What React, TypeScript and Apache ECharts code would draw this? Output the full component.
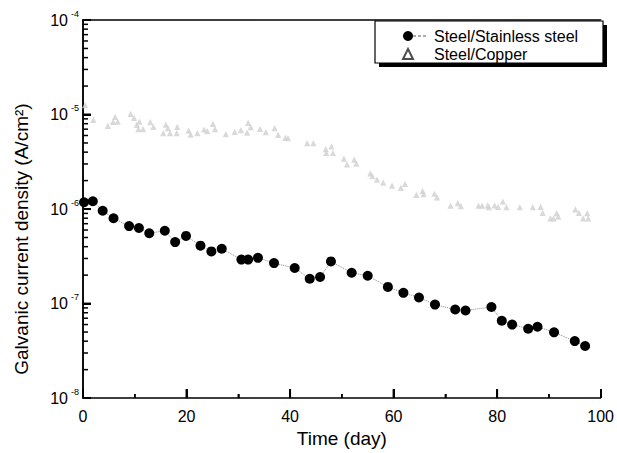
import React, { useEffect, useRef } from "react";
import * as echarts from "echarts";

// Steel/Stainless steel couple (filled circles, dotted line)
const stainlessDays = [0.2, 1.9, 3.8, 5.9, 8.9, 10.8, 12.8, 15.8, 17.8, 19.9, 22.7, 24.8, 26.8, 30.6, 31.9, 33.8, 36.9, 40.9, 43.8, 45.8, 47.9, 51.9, 55.0, 58.9, 61.9, 64.9, 68.0, 71.9, 73.9, 78.9, 80.9, 82.9, 86.0, 87.8, 91.0, 95.0, 97.0];
const stainlessValues = [1.18e-6, 1.21e-6, 9.6e-7, 8.0e-7, 6.6e-7, 6.3e-7, 5.55e-7, 5.9e-7, 4.47e-7, 5.2e-7, 4.1e-7, 3.56e-7, 3.8e-7, 2.92e-7, 2.92e-7, 3.05e-7, 2.68e-7, 2.38e-7, 1.83e-7, 1.91e-7, 2.79e-7, 2.12e-7, 1.97e-7, 1.5e-7, 1.3e-7, 1.16e-7, 9.75e-8, 8.65e-8, 8.44e-8, 9.2e-8, 6.58e-8, 6.0e-8, 5.42e-8, 5.69e-8, 4.96e-8, 4.01e-8, 3.56e-8];

// Steel/Copper couple (faint open triangles)
const copperDays = [0.4, 2.0, 4.8, 5.8, 6.2, 6.7, 9.2, 9.85, 10.4, 10.7, 10.9, 11.6, 13.0, 13.6, 15.5, 16.0, 16.4, 16.8, 18.1, 18.2, 20.4, 20.8, 22.1, 23.4, 24.0, 25.1, 25.5, 27.6, 29.3, 30.5, 31.7, 31.9, 32.4, 34.2, 35.3, 37.0, 37.7, 39.1, 39.6, 43.3, 44.5, 46.9, 47.0, 48.0, 48.3, 50.4, 51.0, 52.4, 52.8, 55.5, 55.9, 56.8, 58.0, 59.7, 61.4, 62.2, 64.4, 65.6, 65.8, 67.9, 68.4, 71.0, 72.4, 73.0, 76.4, 77.1, 78.2, 78.4, 79.5, 80.2, 81.1, 81.8, 84.4, 86.9, 88.4, 88.8, 90.3, 90.9, 91.5, 91.8, 95.1, 95.8, 96.6, 97.4, 97.6];
const copperValues = [1.24e-5, 8.65e-6, 7.48e-6, 8.24e-6, 9.3e-6, 8.3e-6, 1.0e-5, 9.1e-6, 7.66e-6, 6.9e-6, 8.3e-6, 6.9e-6, 8.2e-6, 7.3e-6, 6.26e-6, 7.7e-6, 7.06e-6, 6.26e-6, 6.26e-6, 7.3e-6, 6.67e-6, 6.05e-6, 6.26e-6, 6.84e-6, 6.58e-6, 7.85e-6, 6.9e-6, 6.12e-6, 6.47e-6, 6.73e-6, 6.35e-6, 8.04e-6, 7.24e-6, 6.95e-6, 6.41e-6, 7.06e-6, 6.01e-6, 5.58e-6, 5.54e-6, 4.92e-6, 4.92e-6, 4.25e-6, 3.86e-6, 4.53e-6, 3.86e-6, 3.36e-6, 2.92e-6, 3.28e-6, 2.98e-6, 2.35e-6, 2.19e-6, 2.02e-6, 1.87e-6, 1.74e-6, 1.65e-6, 1.82e-6, 1.39e-6, 1.53e-6, 1.42e-6, 1.43e-6, 1.31e-6, 1.07e-6, 1.14e-6, 1.06e-6, 1.07e-6, 1.07e-6, 1.08e-6, 1.03e-6, 1.08e-6, 1.04e-6, 1.18e-6, 1.03e-6, 1.03e-6, 1.03e-6, 1.04e-6, 9.0e-7, 7.85e-7, 7.85e-7, 8.93e-7, 8.2e-7, 9.76e-7, 9.0e-7, 7.85e-7, 8.93e-7, 7.85e-7];

// Axis ticks
const xTickValues = [0, 20, 40, 60, 80, 100];
const xMinorTickValues = [10, 30, 50, 70, 90];
const yDecadeExponents = [-8, -7, -6, -5, -4];
const minorMantissas = [2, 3, 4, 5, 6, 7, 8, 9];

const FONT = "Liberation Sans, Arial, sans-serif";

export default function App() {
  const ref = useRef<HTMLDivElement>(null);
  useEffect(() => {
    const chart = echarts.init(ref.current!, null, { renderer: "svg" });
    const yMin = Math.pow(10, yDecadeExponents[0]);
    const yMax = Math.pow(10, yDecadeExponents[yDecadeExponents.length - 1]);
    const xMin = xTickValues[0];

    const yMajorVals = yDecadeExponents.slice(1, -1).map((e) => Math.pow(10, e));
    const yMinorVals: number[] = [];
    for (let i = 0; i < yDecadeExponents.length - 1; i++) {
      for (const m of minorMantissas) yMinorVals.push(m * Math.pow(10, yDecadeExponents[i]));
    }
    const xMajorVals = xTickValues.slice(1, -1);

    const frameAxis = { axisLine: { show: true, lineStyle: { color: "#000", width: 1.5 } }, axisTick: { show: false }, axisLabel: { show: false }, splitLine: { show: false } };

    const baseGraphic: any[] = [
      { id: "shadow", type: "rect", z: 5, shape: { x: 379, y: 25, width: 228, height: 42 }, style: { fill: "#000" } },
      { id: "box", type: "rect", z: 5, shape: { x: 375, y: 21, width: 228, height: 42 }, style: { fill: "#fff", stroke: "#000", lineWidth: 1.2 } },
      { id: "legdash", type: "line", z: 12, shape: { x1: 413, y1: 36, x2: 428, y2: 36 }, style: { stroke: "#555", lineWidth: 1, lineDash: [3, 2] } },
    ];

    chart.setOption({
      animation: false,
      backgroundColor: "#fff",
      grid: { left: 83, right: 16, top: 20, bottom: 53 },
      graphic: baseGraphic,
      legend: {
        orient: "vertical",
        left: 402,
        top: 27,
        padding: 0,
        itemGap: 0,
        itemWidth: 10,
        itemHeight: 10,
        z: 10,
        textStyle: { fontFamily: FONT, fontSize: 16, color: "#000", lineHeight: 18, padding: [0, 0, 0, 16] },
        data: [
          { name: "Steel/Stainless steel", icon: "circle", itemStyle: { color: "#000" } },
          { name: "Steel/Copper", icon: "emptyTriangle", itemStyle: { color: "#222", borderColor: "#222", borderWidth: 1 } },
        ],
      },
      xAxis: [
        {
          type: "value",
          min: xMin,
          max: xTickValues[xTickValues.length - 1],
          interval: xTickValues[1] - xTickValues[0],
          name: "Time (day)",
          nameLocation: "middle",
          nameGap: 30,
          nameTextStyle: { fontFamily: FONT, fontSize: 19, color: "#000" },
          axisLine: { show: true, onZero: false, lineStyle: { color: "#000", width: 1.5 } },
          axisTick: { show: true, inside: true, length: 9, lineStyle: { color: "#000", width: 2 } },
          minorTick: { show: true, splitNumber: 2, length: 4, lineStyle: { color: "#000", width: 1.5 } },
          splitLine: { show: false },
          axisLabel: { fontFamily: FONT, fontSize: 16, color: "#000", margin: 10 },
        },
        { type: "value", position: "top", min: 0, max: 100, ...frameAxis },
      ],
      yAxis: [
        {
          type: "log",
          logBase: 10,
          min: yMin,
          max: yMax,
          name: "Galvanic current density (A/cm²)",
          nameLocation: "middle",
          nameGap: 52,
          nameTextStyle: { fontFamily: FONT, fontSize: 19, color: "#000", padding: [0, 60, 0, 0] },
          axisLine: { show: true, onZero: false, lineStyle: { color: "#000", width: 1.5 } },
          axisTick: { show: true, inside: true, length: 8, lineStyle: { color: "#000", width: 2 } },
          splitLine: { show: false },
          axisLabel: {
            margin: 4,
            formatter: (v: number) => `{b|10}{s|${Math.round(Math.log10(v))}}`,
            rich: {
              b: { fontFamily: FONT, fontSize: 16, color: "#000", lineHeight: 22 },
              s: { fontFamily: FONT, fontSize: 9, color: "#000", verticalAlign: "top", padding: [0, 0, 0, 3] },
            },
          },
        },
        { type: "log", logBase: 10, position: "right", min: yMin, max: yMax, ...frameAxis },
      ],
      series: [
        {
          name: "Steel/Copper",
          type: "scatter",
          symbol: "emptyTriangle",
          symbolSize: 3,
          itemStyle: { color: "#d0d0d0", borderColor: "#d0d0d0", borderWidth: 0.6 },
          data: copperDays.map((d, i) => [d, copperValues[i]]),
          z: 2,
        },
        {
          name: "Steel/Stainless steel",
          type: "line",
          symbol: "circle",
          symbolSize: 10,
          itemStyle: { color: "#000" },
          lineStyle: { color: "#888", width: 1, type: "dotted" },
          data: stainlessDays.map((d, i) => [d, stainlessValues[i]]),
          z: 4,
        },
      ],
    });

    // tick marks placed through the chart's own scales (convertToPixel)
    const tickLines: any[] = [];
    const addY = (v: number, len: number, lw: number, key: string) => {
      const p = chart.convertToPixel({ gridIndex: 0 }, [xMin, v]) as number[];
      if (!p || isNaN(p[0]) || isNaN(p[1])) return;
      tickLines.push({ id: key, type: "line", z: 100, silent: true, shape: { x1: p[0], y1: p[1], x2: p[0] + len, y2: p[1] }, style: { stroke: "#000", lineWidth: lw } });
    };
    const addX = (v: number, len: number, lw: number, key: string) => {
      const p = chart.convertToPixel({ gridIndex: 0 }, [v, yMin]) as number[];
      if (!p || isNaN(p[0]) || isNaN(p[1])) return;
      tickLines.push({ id: key, type: "line", z: 100, silent: true, shape: { x1: p[0], y1: p[1], x2: p[0], y2: p[1] - len }, style: { stroke: "#000", lineWidth: lw } });
    };
    yMajorVals.forEach((v, i) => addY(v, 8, 2, "ymaj" + i));
    yMinorVals.forEach((v, i) => addY(v, 5, 1.5, "ymin" + i));
    xMajorVals.forEach((v, i) => addX(v, 9, 2, "xmaj" + i));
    xMinorTickValues.forEach((v, i) => addX(v, 4, 1.5, "xmin" + i));
    chart.setOption({ graphic: [...baseGraphic, ...tickLines] });

    return () => chart.dispose();
  }, []);
  return <div ref={ref} style={{ position: "fixed", left: 0, top: 0, width: 617, height: 453 }} />;
}
